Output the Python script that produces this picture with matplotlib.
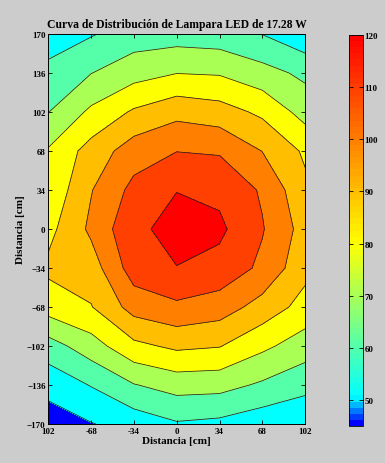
import numpy as np
import matplotlib
matplotlib.use('Agg')
import matplotlib.pyplot as plt
from matplotlib.colors import LinearSegmentedColormap, Normalize
from matplotlib.cm import ScalarMappable

plt.rcParams['font.family'] = ['Liberation Serif', 'DejaVu Serif']
plt.rcParams['font.weight'] = 'bold'

# grid of measuring points [cm]
x_cm = [-102, -68, -34, 0, 34, 68, 102]
y_cm = [170, 136, 102, 68, 34, 0, -34, -68, -102, -136, -170]
x_labels = ['102', '-68', '-34', '0', '34', '68', '102']

# readings, one row per y (top to bottom), one column per x
lux = [
    [50.7, 59.2, 64.7, 65.3, 64.2, 59.8, 52.5],
    [65.0, 69.8, 76.0, 79.8, 79.1, 73.7, 67.8],
    [69.8, 82.0, 91.4, 97.0, 94.3, 88.0, 76.2],
    [81.0, 94.0, 105.2, 109.8, 109.0, 99.8, 88.4],
    [82.0, 99.5, 112.9, 119.8, 117.7, 108.8, 92.2],
    [87.0, 102.0, 118.0, 123.0, 122.0, 110.7, 96.0],
    [92.1, 95.0, 115.0, 119.8, 116.7, 107.9, 93.0],
    [84.5, 89.5, 104.0, 108.0, 105.0, 96.1, 86.3],
    [65.6, 75.5, 87.5, 92.0, 90.5, 82.2, 75.0],
    [53.4, 60.5, 69.5, 74.0, 73.5, 68.5, 63.1],
    [45.0, 49.5, 54.0, 59.0, 57.5, 53.6, 51.6],
]

levels = [50, 60, 70, 80, 90, 100, 110, 120]
cb_min, cb_max = 45, 120
cb_ticks = [50, 60, 70, 80, 90, 100, 110, 120]

bg = '#cccccc'
nodes = [(0.0, '#0000ff'), ((50 - cb_min) / (cb_max - cb_min), '#00ffff'),
         ((80 - cb_min) / (cb_max - cb_min), '#ffff00'), (1.0, '#ff0000')]
cmap_bar = LinearSegmentedColormap.from_list('lux64', nodes, N=64)
cmap_smooth = LinearSegmentedColormap.from_list('lux', nodes, N=512)
norm = Normalize(cb_min, cb_max)

X, Y = np.meshgrid(x_cm, y_cm)
Z = np.array(lux)

fig = plt.figure(figsize=(3.85, 4.64), dpi=100, facecolor=bg)
ax = fig.add_axes([0.1255, 0.084, 0.667, 0.8405])

# filled bands take the colour of their lower level
zmin, zmax = Z.min(), Z.max()
fill_levels = [min(zmin, levels[0]) - 0.01] + levels + [zmax + 0.01]
band_colors = [cmap_smooth(norm(max(lv, cb_min))) for lv in fill_levels[:-1]]
ax.contourf(X, Y, Z, levels=fill_levels, colors=band_colors)
ax.contour(X, Y, Z, levels=levels, colors='#222222', linewidths=0.55)

ax.set_xlim(-102, 102)
ax.set_ylim(-170, 170)
ax.set_xticks(x_cm)
ax.set_xticklabels(x_labels)
ax.set_yticks(y_cm)
ax.tick_params(direction='in', top=True, right=True, length=3, width=0.6,
               labelsize=6.5, pad=2)
for s in ax.spines.values():
    s.set_linewidth(0.7)

ax.set_title('Curva de Distribución de Lampara LED de 17.28 W',
             fontsize=8.4, fontweight='bold', pad=5)
ax.set_xlabel('Distancia [cm]', fontsize=8, fontweight='bold', labelpad=1)
ax.set_ylabel('Distancia [cm]', fontsize=8, fontweight='bold', labelpad=1.5)

cax = fig.add_axes([0.907, 0.0797, 0.0364, 0.8427])
cb = fig.colorbar(ScalarMappable(norm=norm, cmap=cmap_bar), cax=cax, ticks=cb_ticks)
cb.ax.tick_params(direction='in', left=True, right=True, length=3, width=0.6,
                  labelsize=6.5, pad=1)
cb.outline.set_linewidth(0.6)

fig.savefig('out.png', dpi=100, facecolor=bg)
